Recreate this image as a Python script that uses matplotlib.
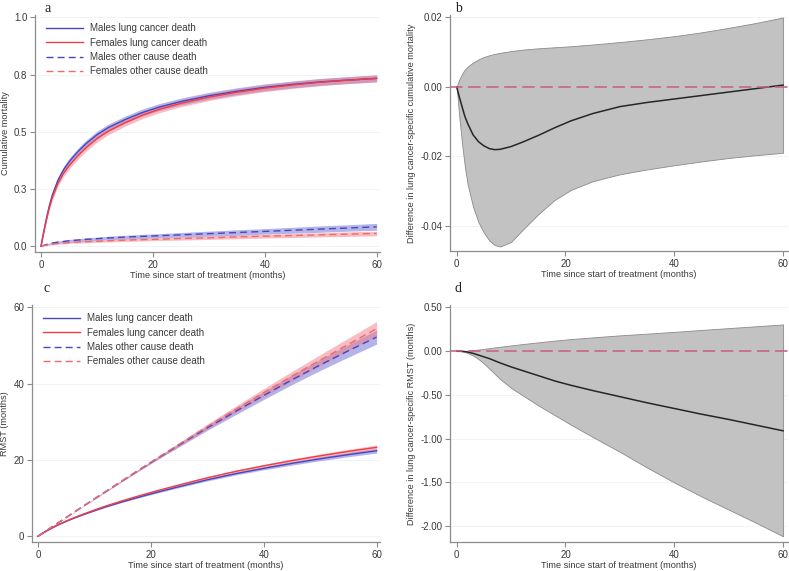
import matplotlib
matplotlib.use("Agg")
import matplotlib.pyplot as plt
import numpy as np

plt.rcParams['font.family'] = ['Liberation Sans', 'DejaVu Sans']
plt.rcParams['lines.scale_dashes'] = False

# months since start of treatment
months = [0, 0.5, 1, 1.5, 2, 3, 4, 5, 6, 7, 8, 10, 12, 15, 18, 21, 25, 30, 35, 40, 45, 50, 55, 60]

# panel a: cumulative mortality
male_lung_cm = [0, .065, .125, .178, .222, .287, .333, .368, .397, .423, .447, .487, .518, .553, .583,
                .607, .632, .657, .677, .694, .707, .718, .726, .733]
male_lung_cm_hw = [0, .004, .007, .009, .011, .013, .014, .015, .015, .015, .015, .015, .015, .015,
                   .015, .015, .015, .015, .015, .015, .015, .015, .015, .015]
female_lung_cm_hw = male_lung_cm_hw
male_other_cm = [0, .004, .008, .011, .014, .018, .021, .024, .026, .028, .03, .033, .036, .04, .043,
                 .046, .05, .055, .06, .065, .07, .075, .08, .085]
male_other_cm_hw = [0, .001, .002, .003, .004, .005, .005, .006, .006, .006, .007, .007, .008, .008,
                    .009, .009, .010, .011, .012, .012, .013, .014, .014, .015]
female_other_cm = [0, .003, .005, .007, .009, .012, .014, .016, .018, .019, .02, .022, .024, .027, .029,
                   .031, .034, .037, .041, .044, .047, .05, .053, .056]
female_other_cm_hw = [0, .001, .002, .002, .003, .003, .004, .004, .004, .005, .005, .005, .005, .006,
                      .006, .006, .007, .007, .008, .008, .009, .009, .010, .010]

# panel b: difference in lung cancer-specific cumulative mortality
diff_cm = [0, -.003, -.0058, -.0085, -.0105, -.0138, -.0158, -.017, -.0178, -.0181, -.018, -.0172,
           -.016, -.014, -.0118, -.0098, -.0077, -.0057, -.0045, -.0035, -.0025, -.0015, -.0005, .0005]
diff_cm_lo = [0, -.009, -.0165, -.023, -.028, -.0345, -.039, -.042, -.0443, -.0456, -.046, -.0447,
              -.0414, -.0367, -.0326, -.0297, -.0272, -.0252, -.0238, -.0226, -.0215, -.0205, -.0197, -.019]
diff_cm_hi = [0, .0022, .0038, .005, .0058, .007, .0079, .0086, .0091, .0095, .0098, .0103, .0107,
              .0111, .0114, .0117, .0122, .0129, .0137, .0146, .0157, .017, .0184, .02]

# panel c: restricted mean survival time (months)
male_lung_rmst = [0, .49, .95, 1.39, 1.8, 2.57, 3.27, 3.92, 4.53, 5.1, 5.65, 6.7, 7.7, 9.05, 10.3,
                  11.5, 13.0, 14.8, 16.4, 17.8, 19.1, 20.3, 21.4, 22.4]
lung_rmst_hw = [0, 0, .01, .01, .02, .03, .04, .05, .06, .07, .08, .1, .12, .15, .18, .21, .25, .3,
                .35, .4, .45, .5, .55, .6]
male_other_rmst = [0, .5, 1, 1.5, 2, 2.98, 3.96, 4.94, 5.92, 6.9, 7.87, 9.8, 11.72, 14.6, 17.45,
                   20.25, 23.9, 28.4, 32.7, 36.9, 41.0, 44.9, 48.6, 52.2]
female_other_rmst = [0, .5, 1, 1.5, 2, 2.98, 3.96, 4.95, 5.93, 6.91, 7.89, 9.82, 11.76, 14.66, 17.54,
                     20.38, 24.1, 28.75, 33.25, 37.65, 41.95, 46.15, 50.3, 54.4]
other_rmst_hw = [0, 0, 0, 0, .01, .02, .03, .04, .05, .06, .07, .1, .13, .18, .24, .32, .45, .65,
                 .85, 1.05, 1.25, 1.45, 1.65, 1.85]

# panel d: difference in lung cancer-specific RMST
diff_rmst = [0, 0, -.002, -.005, -.01, -.025, -.045, -.065, -.085, -.11, -.135, -.18, -.22, -.28,
             -.34, -.39, -.45, -.52, -.59, -.655, -.72, -.78, -.845, -.91]
diff_rmst_lo = [0, 0, -.004, -.01, -.02, -.05, -.09, -.14, -.2, -.26, -.32, -.42, -.5, -.62, -.73,
                -.84, -.98, -1.15, -1.33, -1.5, -1.66, -1.81, -1.96, -2.115]
diff_rmst_hi = [0, 0, .001, .002, .004, .01, .018, .026, .034, .042, .05, .065, .08, .1, .12, .138,
                .157, .18, .2, .22, .242, .263, .284, .305]

t = np.array(months)
female_lung_cm = np.array(male_lung_cm) + np.array(diff_cm)
female_lung_rmst = np.array(male_lung_rmst) - np.array(diff_rmst)

BLUE = '#4646c0'
BLUE_BAND = '#6a6ad2'
RED = '#f03c46'
RED_BAND = '#f27a88'
RED_DASH = '#f06a6a'
AXC = '#8c8c8c'
TXT = '#3a3a3a'

fig = plt.figure(figsize=(7.89, 5.71), dpi=100)
ax_a = fig.add_axes([35/789, 1-252/571, 345/789, 237/571])
ax_b = fig.add_axes([450/789, 1-251/571, 338/789, 236/571])
ax_c = fig.add_axes([32/789, 1-542/571, 348/789, 237/571])
ax_d = fig.add_axes([450/789, 1-542/571, 338/789, 237/571])


def style(ax, yticks, ylabels, ylim, xlim, ylab):
    ax.set_xlim(*xlim)
    ax.set_ylim(*ylim)
    ax.set_yticks(yticks)
    ax.set_yticklabels(ylabels)
    ax.set_xticks([0, 20, 40, 60])
    for s in ['top', 'right']:
        ax.spines[s].set_visible(False)
    for s in ['left', 'bottom']:
        ax.spines[s].set_color(AXC)
        ax.spines[s].set_linewidth(0.9)
    ax.tick_params(colors=AXC, labelcolor=TXT, labelsize=7, length=3.5, width=0.8, pad=2)
    for y in yticks:
        ax.axhline(y, color='#edf2f5', lw=0.6, zorder=0)
    ax.set_xlabel("Time since start of treatment (months)", fontsize=6.6, color=TXT, labelpad=1)
    ax.set_ylabel(ylab, fontsize=6.6, color=TXT, labelpad=3)


def band(ax, y, hw, color):
    y = np.array(y)
    hw = np.array(hw)
    ax.fill_between(t, y - hw, y + hw, color=color, alpha=0.5, lw=0)


# panel a
band(ax_a, male_lung_cm, male_lung_cm_hw, BLUE_BAND)
band(ax_a, female_lung_cm, female_lung_cm_hw, RED_BAND)
band(ax_a, male_other_cm, male_other_cm_hw, BLUE_BAND)
band(ax_a, female_other_cm, female_other_cm_hw, RED_BAND)
ax_a.plot(t, male_lung_cm, color=BLUE, lw=1.0, label="Males lung cancer death")
ax_a.plot(t, female_lung_cm, color=RED, lw=1.0, label="Females lung cancer death")
ax_a.plot(t, male_other_cm, color=BLUE, lw=1.0, dashes=(5, 3), label="Males other cause death")
ax_a.plot(t, female_other_cm, color=RED_DASH, lw=1.0, dashes=(5, 3), label="Females other cause death")
style(ax_a, [0, .25, .5, .75, 1.0], ['0.0', '0.3', '0.5', '0.8', '1.0'], (-0.025, 1.01), (-1.07, 60.6),
      "Cumulative mortality")

# panel b
ax_b.fill_between(t, diff_cm_lo, diff_cm_hi, facecolor='#c2c2c2', edgecolor='#8a8a8a', lw=0.6)
ax_b.plot(t, diff_cm, color='#262626', lw=1.1)
ax_b.axhline(0, color='#c8607a', lw=1.1, dashes=(9, 4))
style(ax_b, [.02, 0, -.02, -.04], ['0.02', '0.00', '-0.02', '-0.04'], (-0.0473, 0.0207), (-1.23, 60.9),
      "Difference in lung cancer-specific cumulative mortality")

# panel c
band(ax_c, male_lung_rmst, lung_rmst_hw, BLUE_BAND)
band(ax_c, female_lung_rmst, lung_rmst_hw, RED_BAND)
band(ax_c, male_other_rmst, other_rmst_hw, BLUE_BAND)
band(ax_c, female_other_rmst, other_rmst_hw, RED_BAND)
ax_c.plot(t, male_lung_rmst, color=BLUE, lw=1.0, label="Males lung cancer death")
ax_c.plot(t, female_lung_rmst, color=RED, lw=1.0, label="Females lung cancer death")
ax_c.plot(t, male_other_rmst, color=BLUE, lw=1.0, dashes=(5, 3), label="Males other cause death")
ax_c.plot(t, female_other_rmst, color=RED_DASH, lw=1.0, dashes=(5, 3), label="Females other cause death")
style(ax_c, [0, 20, 40, 60], ['0', '20', '40', '60'], (-1.5, 60.6), (-1.06, 60.6), "RMST (months)")

# panel d
ax_d.fill_between(t, diff_rmst_lo, diff_rmst_hi, facecolor='#c2c2c2', edgecolor='#8a8a8a', lw=0.6)
ax_d.plot(t, diff_rmst, color='#262626', lw=1.1)
ax_d.axhline(0, color='#c8607a', lw=1.1, dashes=(9, 4))
style(ax_d, [.5, 0, -.5, -1, -1.5, -2], ['0.50', '0.00', '-0.50', '-1.00', '-1.50', '-2.00'],
      (-2.18, 0.527), (-1.23, 60.9), "Difference in lung cancer-specific RMST (months)")

for ax in (ax_a, ax_c):
    ax.legend(loc='upper left', bbox_to_anchor=(0.015, 0.99), frameon=False, fontsize=7,
              handlelength=3.8, handletextpad=0.7, labelspacing=0.45, borderpad=0.1,
              labelcolor=TXT)

for letter, x, y in [('a', 48, 8), ('b', 458, 8), ('c', 47, 288), ('d', 458, 288)]:
    fig.text(x/789, 1-y/571, letter, family='Liberation Serif', fontsize=10, color='#222',
             ha='center', va='center')

fig.savefig("out.png", dpi=100)
